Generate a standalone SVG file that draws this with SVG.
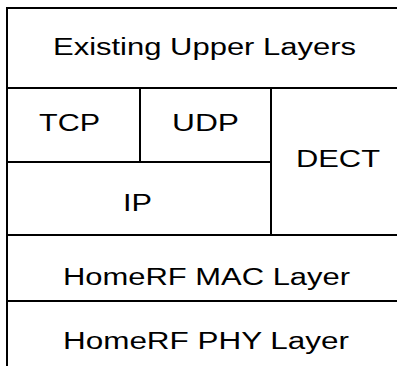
<svg xmlns="http://www.w3.org/2000/svg" width="397" height="366" viewBox="0 0 397 366">
<style>
rect.cell{fill:#fff;stroke:#000;stroke-width:2}
text{font-family:"Liberation Sans",Arial,sans-serif;font-size:23px;fill:#000;text-anchor:middle}
</style>
<rect width="397" height="366" fill="#fff"/>
<g id="upper"><rect class="cell" x="7" y="8" width="392" height="80"/><text x="204.5" y="55" textLength="303" lengthAdjust="spacingAndGlyphs">Existing Upper Layers</text></g>
<g id="tcp"><rect class="cell" x="7" y="88" width="133" height="74"/><text x="69.5" y="131" textLength="61" lengthAdjust="spacingAndGlyphs">TCP</text></g>
<g id="udp"><rect class="cell" x="140" y="88" width="131" height="74"/><text x="205.5" y="131" textLength="67" lengthAdjust="spacingAndGlyphs">UDP</text></g>
<g id="ip"><rect class="cell" x="7" y="162" width="264" height="73"/><text x="137.5" y="211" textLength="29" lengthAdjust="spacingAndGlyphs">IP</text></g>
<g id="dect"><rect class="cell" x="271" y="88" width="128" height="147"/><text x="338" y="167" textLength="84" lengthAdjust="spacingAndGlyphs">DECT</text></g>
<g id="mac"><rect class="cell" x="7" y="235" width="392" height="66"/><text x="206.5" y="285" textLength="287" lengthAdjust="spacingAndGlyphs">HomeRF MAC Layer</text></g>
<g id="phy"><rect class="cell" x="7" y="301" width="392" height="70"/><text x="206" y="349" textLength="286" lengthAdjust="spacingAndGlyphs">HomeRF PHY Layer</text></g>
<g id="connectors"></g>
</svg>
